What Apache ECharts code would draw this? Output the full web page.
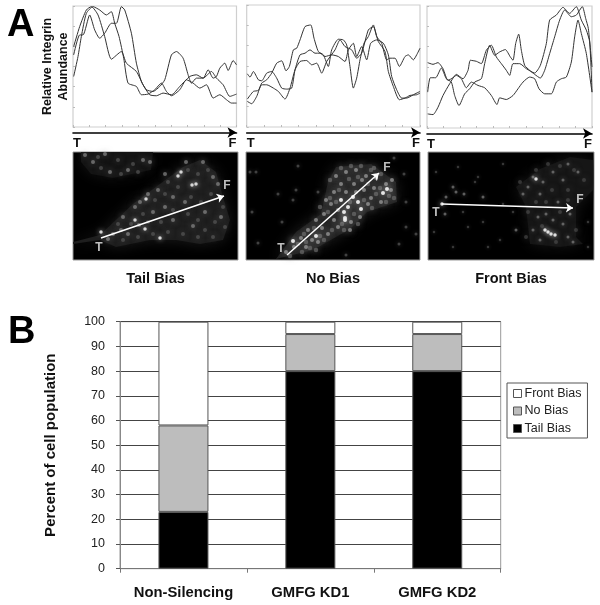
<!DOCTYPE html>
<html><head><meta charset="utf-8">
<style>html,body{margin:0;padding:0;background:#fff}#c{width:600px;height:605px}</style>
<script src="https://cdn.jsdelivr.net/npm/echarts@6/dist/echarts.min.js"></script>
</head><body><div id="c"></div>
<script>
// Panel A: integrin abundance profiles, [distance along tail-to-front axis, abundance]
const tailA=[[2,217],[20,277],[30,277],[50,337],[65,292],[80,267],[95,282],[115,312],[130,312],[145,362],[155,352],[175,282],[190,192],[205,137],[220,112],[240,107],[260,122],[275,142],[295,217],[310,227],[330,207],[345,157],[355,132],[370,147],[390,147],[405,172],[420,147],[430,152],[440,177],[455,192],[465,170],[480,200],[490,187]];
const tailB=[[2,152],[15,212],[25,272],[40,342],[60,362],[80,352],[100,337],[115,347],[125,312],[138,272],[152,207],[165,132],[190,122],[205,97],[225,99],[245,112],[265,132],[280,107],[295,94],[320,112],[340,142],[360,132],[380,117],[400,127],[420,87],[440,97],[460,82],[475,72],[490,72]];
const tailC=[[2,242],[20,302],[40,352],[55,362],[75,337],[95,272],[115,204],[145,227],[160,192],[190,167],[210,127],[230,97],[250,94],[270,102],[295,97],[320,122],[350,152],[370,157],[390,147],[415,167],[430,147],[450,127],[470,92],[490,99]];
const noA=[[2,84],[20,107],[35,110],[45,132],[60,142],[75,162],[90,192],[105,199],[118,169],[128,182],[140,232],[150,237],[160,262],[175,302],[192,307],[202,267],[215,227],[230,217],[245,182],[255,232],[275,264],[290,262],[300,247],[310,182],[320,117],[330,147],[340,202],[352,252],[365,272],[380,307],[390,272],[405,252],[420,202],[430,207],[445,207],[458,182],[475,212],[485,217],[500,202],[510,217],[520,237]];
const noB=[[2,160],[10,150],[20,167],[35,142],[45,139],[60,162],[75,167],[90,147],[105,117],[120,114],[135,117],[145,172],[160,217],[175,222],[190,232],[205,222],[220,222],[235,212],[255,217],[275,212],[295,197],[305,232],[320,252],[330,212],[345,242],[360,202],[372,252],[390,262],[410,252],[425,217],[435,152],[450,112],[465,87],[480,87],[500,97],[520,107]];
const noC=[[2,77],[15,70],[30,92],[45,127],[60,127],[80,117],[95,107],[115,84],[130,117],[145,172],[160,197],[180,200],[195,187],[210,192],[225,162],[240,197],[265,232],[280,262],[295,242],[315,232],[330,207],[345,222],[365,292],[380,302],[395,257],[415,227],[425,167],[440,122],[458,82],[475,87],[490,95],[510,97],[520,102]];
const frontA=[[2,107],[10,150],[26,150],[43,179],[58,147],[73,137],[83,97],[96,67],[113,102],[128,117],[143,137],[163,147],[173,192],[188,247],[203,217],[218,227],[235,234],[250,212],[258,202],[266,252],[275,280],[283,232],[293,187],[308,172],[323,160],[340,149],[353,172],[368,222],[383,272],[398,322],[413,352],[433,332],[448,337],[466,362],[476,327],[484,297],[495,182]];
const frontB=[[2,195],[18,190],[33,195],[48,177],[63,142],[78,150],[88,157],[103,147],[118,120],[133,137],[153,127],[173,120],[193,97],[210,70],[218,90],[238,85],[258,97],[273,117],[288,137],[308,152],[323,147],[336,117],[353,102],[373,102],[388,137],[403,147],[418,152],[433,197],[443,272],[453,322],[463,282],[478,222],[495,107]];
const frontC=[[2,42],[18,40],[33,62],[48,97],[68,132],[88,160],[108,147],[123,172],[130,202],[148,199],[163,192],[178,232],[193,247],[208,212],[223,192],[238,172],[248,157],[258,192],[278,192],[298,177],[323,164],[340,187],[358,252],[368,322],[388,337],[408,360],[428,342],[448,362],[463,322],[478,292],[488,257],[495,107]];

// Panel A micrographs: cell outlines, fluorescent spots and tail-to-front arrows, in image units
const tailCell=[[0,90],[27,83],[60,52],[87,32],[110,15],[127,8],[143,20],[150,45],[157,68],[150,88],[127,92],[103,88],[77,88],[43,95],[27,88],[0,92]];
const tailHaze=[[8,0],[80,0],[78,18],[40,26],[18,22],[8,10]];
const tailBright=[[108,20],[105,24],[123,32],[119,33],[87,86],[62,68],[72,77],[28,80],[73,47]];
const tailMid=[[20,10],[32,2],[37,20],[55,18],[70,8],[12,3],[77,10],[85,38],[67,50],[75,42],[62,55],[50,65],[48,78],[40,82],[55,82],[66,73],[80,60],[92,55],[100,68],[120,74],[132,60],[140,25],[130,10],[145,32],[148,65],[92,22],[113,10],[35,87],[100,45],[112,50]];
const tailDim=[[25,5],[45,8],[60,12],[28,16],[48,22],[65,20],[95,30],[115,18],[125,22],[135,18],[150,55],[152,75],[140,85],[125,85],[110,82],[95,80],[80,82],[65,85],[50,88],[45,72],[58,72],[70,62],[82,48],[92,42],[105,35],[118,45],[128,50],[138,42],[142,70],[115,62],[100,58],[88,70],[75,70],[125,68],[132,78]];
const noCell=[[30,107],[50,80],[75,62],[82,30],[90,15],[125,12],[150,30],[151,50],[121,60],[104,77],[67,98]];
const noBright=[[98,60],[102,55],[99,66],[99,68],[112,50],[115,57],[95,48],[47,89],[137,41],[141,37],[107,45],[70,84]];
const noMid=[[90,24],[100,20],[110,18],[120,24],[130,26],[140,32],[145,38],[135,50],[125,46],[118,38],[108,32],[95,32],[88,40],[85,52],[78,62],[70,68],[62,78],[55,86],[48,95],[60,95],[72,90],[82,82],[92,75],[105,70],[114,65],[122,52],[128,36],[100,40],[92,58],[76,76],[66,88],[40,100],[88,68],[80,48],[116,28],[110,40],[104,78],[146,28]];
const noDim=[[95,16],[105,14],[115,14],[125,18],[135,22],[143,44],[130,42],[122,32],[112,25],[103,27],[93,38],[84,46],[82,60],[74,55],[68,76],[58,82],[52,92],[44,104],[56,100],[64,96],[78,88],[86,78],[96,72],[108,62],[118,48],[126,56],[134,36],[104,50],[90,50],[74,84],[84,28],[98,78],[148,46],[140,50],[128,16],[112,72],[70,98],[60,90]];
const noStray=[[10,20],[4,20],[32,42],[50,38],[47,48],[148,6],[158,22],[160,75],[170,82],[153,92],[100,103],[12,91],[36,70],[52,14],[72,40],[6,60],[160,50]];
const frontCell=[[88,35],[112,17],[142,5],[165,8],[165,38],[148,55],[148,85],[155,92],[132,95],[102,92],[98,55]];
const frontBright=[[120,80],[117,78],[123,82],[127,83],[14,52],[108,27]];
const frontMid=[[105,25],[115,30],[125,20],[135,28],[100,35],[112,42],[95,42],[110,65],[118,62],[125,68],[135,72],[105,78],[112,88],[140,85],[145,90],[130,50],[25,35],[18,45],[28,40],[17,62],[36,42],[55,45],[88,78],[150,20],[140,12],[142,62]];
const frontDim=[[92,30],[108,18],[120,12],[132,14],[146,18],[156,28],[140,38],[124,38],[108,50],[100,60],[132,60],[114,74],[128,90],[98,85],[148,78],[140,48],[118,50]];
const frontStray=[[8,20],[30,15],[50,25],[6,80],[25,95],[40,75],[55,70],[60,95],[72,88],[85,60],[75,12],[47,30],[160,70],[160,95],[75,52],[35,60]];
const tailArrow=[[28,86],[151,44]], noArrow=[[41,103],[133,21]], frontArrow=[[14,52],[145,56]];
const tailLabels=[['T',26,96],['F',154,34]], noLabels=[['T',35,97],['F',141,16]], frontLabels=[['T',8,61],['F',152,48]];

// Panel B
const categories=['Non-Silencing','GMFG KD1','GMFG KD2'];
const tailBias=[23,80,80];
const noBias=[35,15,15];
const frontBias=[42,5,5];
const panelTitles=['Tail Bias','No Bias','Front Bias'];

const plots=[{left:73,top:6,width:163.5,height:121,xm:490,ym:364},{left:246.7,top:5,width:173.3,height:122,xm:520,ym:367},{left:427,top:6,width:165,height:122,xm:495,ym:364}];
const imgs=[{left:73,top:152,width:165,height:108},{left:246,top:152,width:174,height:108},{left:428,top:152,width:166,height:108}];
const grid=[],xAxis=[],yAxis=[],series=[];
const FF='"Liberation Sans",Arial,sans-serif';
plots.forEach((p,i)=>{
  grid.push({left:p.left,top:p.top,width:p.width,height:p.height,show:true,borderColor:'#cfcfcf',borderWidth:1.2,backgroundColor:'#fff'});
  yAxis.push({gridIndex:i,type:'value',min:0,max:p.ym,interval:p.ym/6,axisLabel:{show:false},splitLine:{show:false},
    axisLine:{show:false},axisTick:{show:true,inside:true,length:2,lineStyle:{color:'#bbb'}},
    name:i===0?'Relative Integrin\nAbundance':'',nameLocation:'middle',nameRotate:90,nameGap:1,
    nameTextStyle:{fontFamily:FF,fontWeight:'bold',fontSize:12.5,color:'#111',lineHeight:16}});
});
plots.forEach((p,i)=>{
  xAxis.push({gridIndex:i,type:'value',min:0,max:p.xm,interval:p.xm/10,axisLabel:{show:false},splitLine:{show:false},
    axisLine:{show:false},axisTick:{show:true,inside:true,length:2,lineStyle:{color:'#bbb'}}});
});
plots.forEach((p,i)=>{
  xAxis.push({gridIndex:i,type:'value',min:0,max:p.xm,position:'bottom',offset:5.5,splitLine:{show:false},axisTick:{show:false},
    axisLine:{show:true,onZero:false,symbol:['none','arrow'],symbolSize:[8,9],lineStyle:{color:'#000',width:1.6}},
    axisLabel:{show:true,customValues:[0,p.xm],margin:4,alignMinLabel:'left',alignMaxLabel:'right',fontFamily:FF,fontWeight:'bold',fontSize:13,color:'#111',
      formatter:v=>v===0?'T':'F'}});
});
imgs.forEach((m,i)=>{
  grid.push({left:m.left,top:m.top,width:m.width,height:m.height,show:true,backgroundColor:'#000',borderColor:'#999',borderWidth:1});
  xAxis.push({gridIndex:3+i,type:'value',min:0,max:m.width,position:'bottom',axisLine:{show:false,onZero:false},axisTick:{show:false},axisLabel:{show:false},splitLine:{show:false},
    name:panelTitles[i],nameLocation:'middle',nameGap:11,nameTextStyle:{fontFamily:FF,fontWeight:'bold',fontSize:14.5,color:'#111'}});
  yAxis.push({gridIndex:3+i,type:'value',min:0,max:m.height,inverse:true,axisLine:{show:false},axisTick:{show:false},axisLabel:{show:false},splitLine:{show:false}});
});
grid.push({left:120,top:321.7,width:380.7,height:247,show:true,borderColor:'#999',borderWidth:1,backgroundColor:'#fff'});
xAxis.push({gridIndex:6,type:'category',data:categories,axisLine:{lineStyle:{color:'#777'}},axisTick:{show:true,interval:0,length:4,lineStyle:{color:'#777'}},
  axisLabel:{interval:0,hideOverlap:false,margin:17,fontFamily:FF,fontWeight:'bold',fontSize:14.8,color:'#111'}});
yAxis.push({gridIndex:6,type:'value',min:0,max:100,interval:10,axisLine:{show:true,lineStyle:{color:'#888'}},axisTick:{show:true,length:4,lineStyle:{color:'#555'}},
  splitLine:{lineStyle:{color:'#444',width:1}},axisLabel:{margin:15,fontFamily:FF,fontSize:12.5,color:'#222'},
  name:'Percent of cell population',nameLocation:'middle',nameRotate:90,nameGap:62,nameTextStyle:{fontFamily:FF,fontSize:15,fontWeight:'bold',color:'#111'}});

[[tailA,tailB,tailC],[noA,noB,noC],[frontA,frontB,frontC]].forEach((set,i)=>set.forEach(d=>series.push({
  type:'line',xAxisIndex:i,yAxisIndex:i,data:d,smooth:0.2,showSymbol:false,silent:true,
  lineStyle:{color:'#333',width:1}})));

function cell(idx,pts,fill,blur){
  series.push({type:'custom',xAxisIndex:6+idx,yAxisIndex:3+idx,silent:true,clip:true,data:[0],
    renderItem:(p,api)=>({type:'polygon',shape:{points:pts.map(q=>api.coord(q))},
      style:{fill:fill,shadowBlur:blur,shadowColor:fill}})});
}
function spots(idx,data,size,color,op){
  series.push({type:'scatter',xAxisIndex:6+idx,yAxisIndex:3+idx,data:data,symbolSize:size,silent:true,
    itemStyle:{color:color,opacity:op,shadowBlur:size*1.5,shadowColor:color}});
}
function overlay(idx,arrow,labels){
  series.push({type:'lines',coordinateSystem:'cartesian2d',xAxisIndex:6+idx,yAxisIndex:3+idx,silent:true,polyline:false,
    data:[{coords:arrow}],symbol:['none','arrow'],symbolSize:7,lineStyle:{color:'#fff',width:1.5,opacity:1,curveness:0},zlevel:1});
  series.push({type:'scatter',xAxisIndex:6+idx,yAxisIndex:3+idx,silent:true,symbolSize:0,zlevel:1,
    data:labels.map(l=>({name:l[0],value:[l[1],l[2]]})),
    label:{show:true,position:'inside',formatter:'{b}',color:'#eee',fontFamily:FF,fontWeight:'bold',fontSize:12}});
}
cell(0,tailCell,'#1e1e1e',14); cell(0,tailHaze,'#141414',14);
spots(0,tailDim,4,'#666',0.55); spots(0,tailMid,4,'#888',0.7); spots(0,tailBright,3.5,'#ddd',0.95); overlay(0,tailArrow,tailLabels);
cell(1,noCell,'#222',14);
spots(1,noStray,3,'#666',0.6); spots(1,noDim,4.5,'#777',0.6); spots(1,noMid,4,'#999',0.75); spots(1,noBright,4,'#eee',0.95); overlay(1,noArrow,noLabels);
cell(2,frontCell,'#161616',14);
spots(2,frontStray,2.5,'#555',0.6); spots(2,frontDim,4,'#555',0.55); spots(2,frontMid,3,'#808080',0.7); spots(2,frontBright,3.5,'#e8e8e8',0.95); overlay(2,frontArrow,frontLabels);

[['Tail Bias',tailBias,'#000'],['No Bias',noBias,'#bdbdbd'],['Front Bias',frontBias,'#fff']].forEach(s=>series.push({
  name:s[0],type:'bar',stack:'pop',xAxisIndex:9,yAxisIndex:6,data:s[1],barWidth:50,silent:true,
  itemStyle:{color:s[2],borderColor:'#555',borderWidth:1}}));

const chart=echarts.init(document.getElementById('c'),null,{renderer:'canvas'});
chart.setOption({
  animation:false,backgroundColor:'#fff',grid,xAxis,yAxis,series,
  legend:{data:['Front Bias','No Bias','Tail Bias'],orient:'vertical',left:507,top:383,icon:'rect',itemWidth:8,itemHeight:8,itemGap:4.5,padding:[4,6,3,6],
    backgroundColor:'#fff',borderColor:'#555',borderWidth:1,selectedMode:false,
    itemStyle:{borderColor:'#555',borderWidth:1},
    textStyle:{fontFamily:FF,fontSize:12.5,color:'#222',padding:[0,0,0,-2]}},
  graphic:[
    {type:'text',left:7,top:7,style:{text:'A',font:'bold 38px '+FF,fill:'#000'}},
    {type:'text',left:8,top:314,style:{text:'B',font:'bold 38px '+FF,fill:'#000'}}
  ]
});
</script></body></html>
